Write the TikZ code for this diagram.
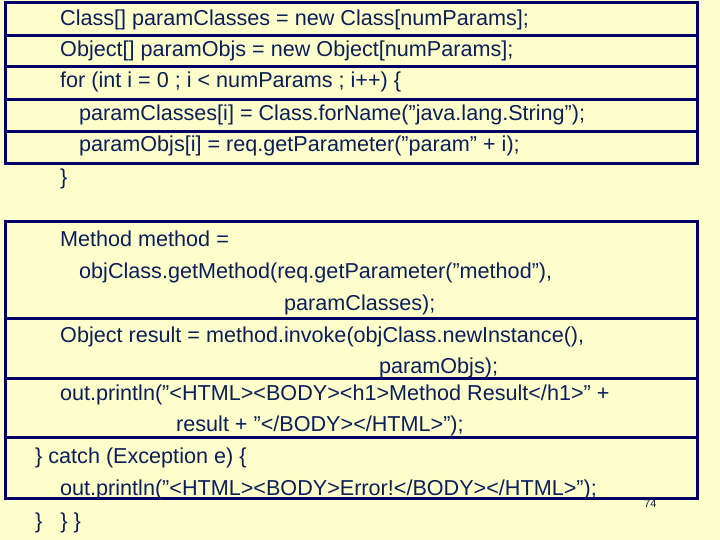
\documentclass[tikz,border=0pt]{standalone}
\usepackage{fontspec}
\setmainfont{Liberation Sans}
\definecolor{bg}{HTML}{FFFFCC}
\definecolor{ln}{HTML}{000066}
\definecolor{tx}{HTML}{0A1E5A}
\newcommand{\dq}{\symbol{34}}
\begin{document}
\begin{tikzpicture}[x=1pt,y=-1pt,
  code/.style={anchor=base west,inner sep=0pt,text=tx,font=\fontsize{21.6}{24}\selectfont},
  box/.style={draw=ln,line width=3pt}]
\fill[bg] (0,0) rectangle (720,540);
\useasboundingbox (0,0) rectangle (720,540);
\foreach \a/\b in {3/36,36/67,67/100,100/132,132/164}
  \draw[box] (5.5,\a) rectangle (697,\b);
\foreach \a/\b in {222/318,318/378,378/437,437/498}
  \draw[box] (5.5,\a) rectangle (697,\b);
\node[code] (l1) at (60,26) {Class[] paramClasses = new Class[numParams];};
\node[code] (l2) at (60,57) {Object[] paramObjs = new Object[numParams];};
\node[code] (l3) at (60,88) {for (int i = 0 ; i < numParams ; i++) \{};
\node[code] (l4) at (79,121) {paramClasses[i] = Class.forName(\dq java.lang.String\dq);};
\node[code] (l5) at (79,152) {paramObjs[i] = req.getParameter(\dq param\dq{} + i);};
\node[code] (l6) at (60,185) {\}};
\node[code] (m1) at (60,247) {Method method =};
\node[code] (m2) at (79,278) {objClass.getMethod(req.getParameter(\dq method\dq),};
\node[code] (m3) at (284,310) {paramClasses);};
\node[code] (m4) at (60,342) {Object result = method.invoke(objClass.newInstance(),};
\node[code] (m5) at (379,373) {paramObjs);};
\node[code] (m6) at (60,400) {out.println(\dq<HTML><BODY><h1>Method Result</h1>\dq{} +};
\node[code] (m7) at (176,431) {result + \dq</BODY></HTML>\dq);};
\node[code] (m8) at (35,463) {\} catch (Exception e) \{};
\node[code] (m9) at (60,495) {out.println(\dq<HTML><BODY>Error!</BODY></HTML>\dq);};
\node[code] (m10) at (35,528) {\}\ \ \ \}\ \}};
\node[anchor=base west,inner sep=0pt,text=tx,font=\fontsize{11}{12}\selectfont] (pg) at (644,507) {74};
\end{tikzpicture}
\end{document}
